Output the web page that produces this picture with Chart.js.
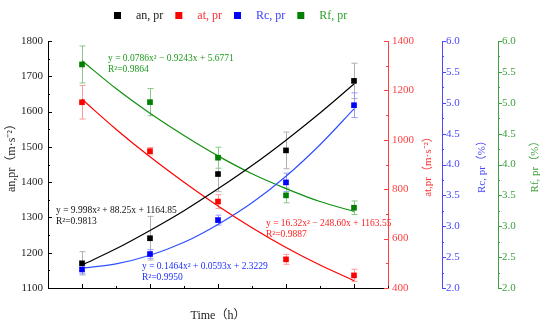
<!DOCTYPE html>
<html>
<head>
<meta charset="utf-8">
<script src="https://cdn.jsdelivr.net/npm/chart.js@4"></script>
<style>
  html, body { margin: 0; padding: 0; background: #fff; }
  #wrap { width: 550px; height: 323px; }
</style>
</head>
<body>
<div id="wrap"><canvas id="chart"></canvas></div>
<script>
const hours = [0, 1, 2, 3, 4];
const anValues = [1170, 1241, 1423, 1490, 1687];
const anErrors = [33, 62, 50, 52, 50];
const atValues = [1152, 954, 750, 516, 451];
const atErrors = [68, 15, 28, 20, 25];
const rcValues = [2.30, 2.55, 3.10, 3.71, 4.96];
const rcErrors = [0.07, 0.07, 0.08, 0.15, 0.2];
const rfValues = [5.62, 5.01, 4.11, 3.50, 3.30];
const rfErrors = [0.30, 0.22, 0.17, 0.12, 0.11];

// fitted curves
const fitHours = [0, 0.5, 1, 1.5, 2, 2.5, 3, 3.5, 4];
const anFit = [1165, 1211, 1263, 1319, 1381, 1447, 1519, 1596, 1678];
const atFit = [1164, 1043, 931, 828, 732, 644, 564, 493, 430];
const rcFit = [2.32, 2.39, 2.53, 2.74, 3.03, 3.38, 3.81, 4.32, 4.90];
const rfFit = [5.68, 5.23, 4.83, 4.47, 4.14, 3.85, 3.61, 3.40, 3.24];

const legendNames = ["an, pr", "at, pr", "Rc, pr", "Rf, pr"];
const seriesColors = ["#000000", "#ff0000", "#0000ff", "#008000"];
const legendTextColors = ["#222222", "#ff3030", "#4040ff", "#30a030"];

const serif = "'Liberation Serif', 'Noto Sans CJK SC', serif";

function pts(xs, ys) { return xs.map((x, i) => ({ x: x, y: ys[i] })); }

function pointSet(label, values, errors, color, errColor, axis) {
  return {
    type: "scatter", label: label, data: pts(hours, values), yAxisID: axis,
    errors: errors, errorColor: errColor,
    pointStyle: "rect", pointRadius: 4, pointHoverRadius: 4,
    backgroundColor: color, borderColor: color, borderWidth: 0, order: 0
  };
}
function fitSet(values, color, axis) {
  return {
    type: "line", label: "fit", data: pts(fitHours, values), yAxisID: axis,
    borderColor: color, borderWidth: 1.2, pointRadius: 0, fill: false,
    cubicInterpolationMode: "monotone", order: 1
  };
}

const errorBars = {
  id: "errorBars",
  beforeDatasetsDraw(chart) {
    const ctx = chart.ctx;
    chart.data.datasets.forEach(ds => {
      if (!ds.errors) return;
      const xs = chart.scales.x, ys = chart.scales[ds.yAxisID];
      ctx.save();
      ctx.strokeStyle = ds.errorColor;
      ctx.lineWidth = 1;
      ds.data.forEach((p, j) => {
        const px = Math.round(xs.getPixelForValue(p.x)) + 0.5;
        const top = ys.getPixelForValue(p.y + ds.errors[j]);
        const bot = ys.getPixelForValue(p.y - ds.errors[j]);
        ctx.beginPath();
        ctx.moveTo(px, top); ctx.lineTo(px, bot);
        ctx.moveTo(px - 3, top); ctx.lineTo(px + 3, top);
        ctx.moveTo(px - 3, bot); ctx.lineTo(px + 3, bot);
        ctx.stroke();
      });
      ctx.restore();
    });
  }
};

// tick marks, axis titles, legend and fit equations
const axisDecor = {
  id: "axisDecor",
  afterDraw(chart) {
    const ctx = chart.ctx;
    const s = chart.scales;
    const specs = [
      { id: "y", step: 100, color: "#000", x: s.y.right, dir: 1 },
      { id: "yAt", step: 200, color: "#ff4040", x: s.yAt.left, dir: -1 },
      { id: "yRc", step: 0.5, color: "#4848ff", x: s.yRc.left, dir: 1 },
      { id: "yRf", step: 0.5, color: "#40a040", x: s.yRf.left, dir: 1 }
    ];
    ctx.save();
    ctx.lineWidth = 1;
    specs.forEach(sp => {
      const sc = s[sp.id];
      ctx.strokeStyle = sp.color;
      ctx.beginPath();
      for (let v = sc.min; v <= sc.max + 1e-9; v += sp.step / 2) {
        const major = Math.abs(Math.round(v / sp.step) * sp.step - v) < 1e-6;
        const py = Math.round(sc.getPixelForValue(v)) + 0.5;
        ctx.moveTo(sp.x, py);
        ctx.lineTo(sp.x + sp.dir * (major ? 4 : 2), py);
      }
      ctx.stroke();
    });
    const xs = s.x;
    ctx.strokeStyle = "#000";
    ctx.beginPath();
    for (let v = -0.5; v <= 4.5; v += 0.5) {
      const major = Math.abs(Math.round(v) - v) < 1e-6;
      const px = Math.round(xs.getPixelForValue(v)) + 0.5;
      ctx.moveTo(px, xs.top);
      ctx.lineTo(px, xs.top - (major ? 4 : 2));
    }
    ctx.stroke();

    const titles = [
      { x: 12, y: 155, text: "an,pr（m·s⁻²）", color: "#222" },
      { x: s.yAt.left + 40, y: 164, text: "at,pr（m·s⁻²）", color: "#ff3030" },
      { x: s.yRc.left + 40, y: 164, text: "Rc, pr（%）", color: "#4848ff" },
      { x: s.yRf.left + 37, y: 164, text: "Rf, pr（%）", color: "#40a040" }
    ];
    ctx.textAlign = "center";
    ctx.textBaseline = "middle";
    titles.forEach((t, i) => {
      ctx.save();
      ctx.font = (i === 0 ? "12px " : "11px ") + serif;
      ctx.fillStyle = t.color;
      ctx.translate(t.x, t.y);
      ctx.rotate(-Math.PI / 2);
      ctx.fillText(t.text, 0, 0);
      ctx.restore();
    });

    // legend
    ctx.font = "12px " + serif;
    ctx.textAlign = "left";
    let lx = 114;
    legendNames.forEach((n, i) => {
      ctx.fillStyle = seriesColors[i];
      ctx.fillRect(lx, 12, 7, 7);
      ctx.fillStyle = legendTextColors[i];
      ctx.fillText(n, lx + 22, 16);
      lx += 22 + ctx.measureText(n).width + 12;
    });

    // fit equations
    const notes = [
      { px: 108, py: 58, lines: ["y = 0.0786x² − 0.9243x + 5.6771", "R²=0.9864"], color: "#1a9a1a" },
      { px: 56, py: 210, lines: ["y = 9.998x² + 88.25x + 1164.85", "R²=0.9813"], color: "#111" },
      { px: 142, py: 266, lines: ["y = 0.1464x² + 0.0593x + 2.3229", "R²=0.9950"], color: "#2030ff" },
      { px: 266, py: 223, lines: ["y = 16.32x² − 248.60x + 1163.55", "R²=0.9887"], color: "#ff2020" }
    ];
    ctx.font = "9.5px " + serif;
    notes.forEach(n => {
      ctx.fillStyle = n.color;
      n.lines.forEach((l, k) => ctx.fillText(l, n.px, n.py + k * 11));
    });
    ctx.restore();
  }
};

function rightAxis(min, max, step, color, width, digits) {
  return {
    type: "linear", position: "right", min: min, max: max,
    border: { color: color, width: 1 },
    grid: { display: false, drawTicks: false },
    ticks: {
      stepSize: step, color: color, padding: 4,
      font: { family: serif, size: 11 },
      callback: v => v.toFixed(digits)
    },
    afterFit: sc => { sc.width = width; }
  };
}

new Chart(document.getElementById("chart"), {
  data: {
    datasets: [
      fitSet(anFit, "#000000", "y"),
      fitSet(atFit, "#ff0000", "yAt"),
      fitSet(rcFit, "#3050ff", "yRc"),
      fitSet(rfFit, "#109010", "yRf"),
      pointSet(legendNames[0], anValues, anErrors, "#000000", "#b0b0b0", "y"),
      pointSet(legendNames[1], atValues, atErrors, "#ff0000", "#ff9a9a", "yAt"),
      pointSet(legendNames[2], rcValues, rcErrors, "#0000ff", "#9a9aff", "yRc"),
      pointSet(legendNames[3], rfValues, rfErrors, "#008000", "#88c888", "yRf")
    ]
  },
  options: {
    responsive: true,
    maintainAspectRatio: false,
    animation: false,
    layout: { padding: { top: 41, right: 0, left: 0, bottom: 0 } },
    plugins: {
      tooltip: { enabled: false },
      legend: { display: false }
    },
    scales: {
      x: {
        type: "linear", min: -0.5, max: 4.5,
        border: { color: "#000", width: 1 },
        grid: { display: false, drawTicks: false },
        ticks: {
          stepSize: 1, color: "#222", padding: 3,
          font: { family: serif, size: 11 },
          callback: v => Number.isInteger(v) ? String(v) : ""
        },
        title: { display: true, text: "Time（h）", color: "#222", padding: { top: 0, bottom: 0 }, font: { family: serif, size: 12 } },
        afterFit: sc => { sc.height = 35; }
      },
      y: {
        type: "linear", position: "left", min: 1100, max: 1800,
        border: { color: "#000", width: 1 },
        grid: { display: false, drawTicks: false },
        ticks: { stepSize: 100, color: "#222", padding: 5, font: { family: serif, size: 11 }, callback: v => String(v) },
        afterFit: sc => { sc.width = 48; }
      },
      yAt: rightAxis(400, 1400, 200, "#ff4040", 54, 0),
      yRc: rightAxis(2, 6, 0.5, "#4848ff", 56, 1),
      yRf: rightAxis(2, 6, 0.5, "#40a040", 52, 1)
    }
  },
  plugins: [errorBars, axisDecor]
});
</script>
</body>
</html>
